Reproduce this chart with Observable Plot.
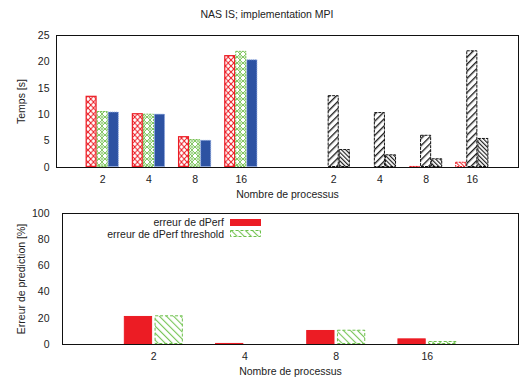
<!DOCTYPE html>
<html><head><meta charset="utf-8">
<script src="https://cdn.jsdelivr.net/npm/d3@7"></script>
<script src="https://cdn.jsdelivr.net/npm/@observablehq/plot@0.6"></script>
<style>
body{margin:0;background:#fff;font-family:"Liberation Sans",Arial,sans-serif;}
#wrap{position:relative;width:519px;height:381px;overflow:hidden;}
#title{position:absolute;top:8px;left:267px;transform:translateX(-50%);font-size:10.5px;line-height:12px;white-space:nowrap;color:#222;}
.leg{position:absolute;font-size:10.5px;line-height:12px;white-space:nowrap;color:#222;text-align:right;}
.sw{position:absolute;}
svg{display:block;}
</style></head>
<body>
<svg width="0" height="0" style="position:absolute">
 <defs>
  <pattern id="pRed" patternUnits="userSpaceOnUse" width="5.5" height="6">
   <rect width="5.5" height="6" fill="white"/>
   <path d="M0,0L5.5,6M5.5,0L0,6" stroke="#ec1c24" stroke-width="1"/>
  </pattern>
  <pattern id="pGreen" patternUnits="userSpaceOnUse" width="6" height="6">
   <rect width="6" height="6" fill="white"/>
   <path d="M0,0L6,6M6,0L0,6" stroke="#76c153" stroke-width="0.9"/>
   <circle cx="0" cy="3" r="1.1" fill="none" stroke="#76c153" stroke-width="0.8"/>
   <circle cx="6" cy="3" r="1.1" fill="none" stroke="#76c153" stroke-width="0.8"/>
  </pattern>
  <pattern id="pTall" patternUnits="userSpaceOnUse" width="5" height="5" patternTransform="rotate(45)">
   <rect width="5" height="5" fill="white"/>
   <line x1="0.7" y1="0" x2="0.7" y2="5" stroke="#111" stroke-width="1.3"/>
  </pattern>
  <pattern id="pShort" patternUnits="userSpaceOnUse" width="3" height="3" patternTransform="rotate(-45)">
   <rect width="3" height="3" fill="white"/>
   <line x1="0.6" y1="0" x2="0.6" y2="3" stroke="#111" stroke-width="1.1"/>
  </pattern>
  <pattern id="pRedH" patternUnits="userSpaceOnUse" width="3" height="3" patternTransform="rotate(-45)">
   <rect width="3" height="3" fill="white"/>
   <line x1="0.6" y1="0" x2="0.6" y2="3" stroke="#ec1c24" stroke-width="1"/>
  </pattern>
  <pattern id="pGreenH" patternUnits="userSpaceOnUse" width="5" height="5" patternTransform="rotate(-45)">
   <rect width="5" height="5" fill="white"/>
   <line x1="0.6" y1="0" x2="0.6" y2="5" stroke="#6cc04a" stroke-width="1"/>
  </pattern>
 </defs>
</svg>
<div id="wrap">
 <div id="title">NAS IS; implementation MPI</div>
 <div id="topPanel"></div>
 <div id="bottomPanel"></div>
 <div class="leg" style="right:295px;top:216px;">erreur de dPerf</div>
 <div class="leg" style="right:295px;top:228px;">erreur de dPerf threshold</div>
 <svg class="sw" style="left:230px;top:219px;" width="32" height="8"><rect x="0.5" y="0.5" width="30" height="6" fill="#ec1c24" stroke="#ec1c24"/></svg>
 <svg class="sw" style="left:230px;top:230px;" width="32" height="8"><rect x="0.5" y="0.5" width="30" height="6" fill="url(#pGreenH)" stroke="#6cc04a" stroke-dasharray="3,2"/></svg>
</div>
<script>
// categories
const procs = ["2", "4", "8", "16"];
const leftPos = [1, 2, 3, 4];
const rightPos = [6, 7, 8, 9];
// top panel series (Temps [s])
const tempsRed = [13.5, 10.2, 5.85, 21.2];
const tempsGreen = [10.6, 10.1, 5.3, 22.0];
const tempsBlue = [10.5, 10.1, 5.15, 20.4];
const tempsRedH = [0.05, 0.1, 0.2, 1.0];
const tempsTall = [13.6, 10.4, 6.1, 22.1];
const tempsShort = [3.4, 2.4, 1.65, 5.5];
// bottom panel series (Erreur de prediction [%])
const errDperf = [21.4, 0.8, 10.7, 4.3];
const errThreshold = [21.9, 0.6, 10.9, 2.3];
const topTicks = [0, 5, 10, 15, 20, 25];
const bottomTicks = [0, 20, 40, 60, 80, 100];

const font = {fontFamily: "Liberation Sans, Arial, sans-serif", fontSize: "10.5px", color: "#222", background: "white"};

const w = 0.24;
function topBars(values, pos, k, opts) {
  const data = values.map((v, i) => ({p: pos[i], v}));
  return Plot.rectY(data, {x1: d => d.p + (k - 1.5) * w, x2: d => d.p + (k - 0.5) * w, y: "v", ...opts});
}
const tickPos = leftPos.concat(rightPos);
const tickLab = procs.concat(procs);

const topChart = Plot.plot({
  width: 519, height: 200,
  marginLeft: 56, marginRight: 1, marginTop: 35, marginBottom: 33,
  style: font,
  x: {domain: [0, 10]},
  y: {domain: [0, 25]},
  marks: [
    topBars(tempsRed, leftPos, 0, {fill: "url(#pRed)", stroke: "#ec1c24", strokeWidth: 1.2, inset: 0.6}),
    topBars(tempsGreen, leftPos, 1, {fill: "url(#pGreen)", stroke: "#76c153", strokeWidth: 1, strokeDasharray: "2,1", inset: 0.5}),
    topBars(tempsBlue, leftPos, 2, {fill: "#2d52a2", stroke: "#8aa6e0", strokeDasharray: "1,1", inset: 0.5}),
    topBars(tempsRedH, rightPos, 0, {fill: "url(#pRedH)", stroke: "#ec1c24", strokeDasharray: "2,1", inset: 0.5}),
    topBars(tempsTall, rightPos, 1, {fill: "url(#pTall)", stroke: "#111", strokeDasharray: "3,1", inset: 0.5}),
    topBars(tempsShort, rightPos, 2, {fill: "url(#pShort)", stroke: "#111", strokeDasharray: "3,1", inset: 0.5}),
    Plot.axisX({ticks: tickPos, tickFormat: d => tickLab[tickPos.indexOf(d)], tickSize: 0, tickPadding: 8,
      label: "Nombre de processus", labelAnchor: "center", labelOffset: 30, labelArrow: "none"}),
    Plot.axisY({ticks: topTicks, tickSize: 0, tickPadding: 7, label: "Temps [s]", labelAnchor: "center", labelOffset: 39, labelArrow: "none"}),
    Plot.frame({stroke: "#111", strokeWidth: 1})
  ]
});
document.getElementById("topPanel").append(topChart);

const bw = 0.31;
function botBars(values, k, opts) {
  const data = values.map((v, i) => ({p: leftPos[i], v}));
  const off = k === 0 ? -0.012 : 0.015;
  return Plot.rectY(data, {x1: d => d.p + (k - 1) * bw + off, x2: d => d.p + k * bw + off, y: "v", ...opts});
}
const bottomChart = Plot.plot({
  width: 519, height: 181,
  marginLeft: 62, marginRight: 1, marginTop: 13, marginBottom: 37,
  style: font,
  x: {domain: [0, 5]},
  y: {domain: [0, 100]},
  marks: [
    botBars(errDperf, 0, {fill: "#ec1c24", stroke: "#ec1c24", inset: 0.5}),
    botBars(errThreshold, 1, {fill: "url(#pGreenH)", stroke: "#6cc04a", strokeDasharray: "3,2", inset: 0.5}),
    Plot.axisX({ticks: leftPos, tickFormat: d => procs[leftPos.indexOf(d)], tickSize: 0, tickPadding: 8,
      label: "Nombre de processus", labelAnchor: "center", labelOffset: 30, labelArrow: "none"}),
    Plot.axisY({ticks: bottomTicks, tickSize: 0, tickPadding: 13, label: "Erreur de prediction [%]", labelAnchor: "center", labelOffset: 45, labelArrow: "none"}),
    Plot.frame({stroke: "#111", strokeWidth: 1})
  ]
});
document.getElementById("bottomPanel").append(bottomChart);
</script>
</body></html>
